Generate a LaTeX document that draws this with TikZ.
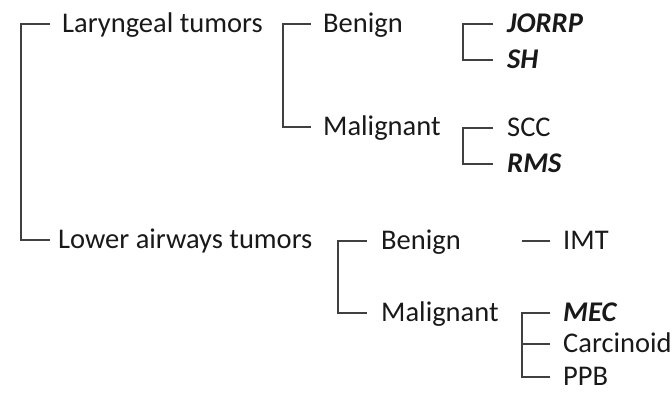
\documentclass[tikz,border=0pt]{standalone}
\usepackage{fontspec}
\setmainfont{Carlito}
\usepackage{tikz}

\begin{document}
\begin{tikzpicture}[
   x=1pt,y=-1pt,
   every node/.style={anchor=west,inner sep=0pt,text height=16pt,text depth=0pt,
      font=\fontsize{28.5}{33}\selectfont,text=black!90},
   hi/.style={font=\fontsize{28.5}{33}\selectfont\bfseries\itshape},
   br/.style={draw=black!75,line width=1.3pt}]
\useasboundingbox (0,0) rectangle (672,392);
% first level
\node (lar) at (62,24) {Laryngeal tumors};
\node (low) at (58,240) {Lower airways tumors};
% second level
\node (lben) at (323,24) {Benign};
\node (lmal) at (323,127) {Malignant};
\node (wben) at (381,241) {Benign};
\node (wmal) at (381,313) {Malignant};
% third level
\node[hi] (jor) at (507,24) {JORRP};
\node[hi] (sh) at (507,60) {SH};
\node (scc) at (507,128) {SCC};
\node[hi] (rms) at (507,164) {RMS};
\node (imt) at (563,241) {IMT};
\node[hi] (mec) at (563,313) {MEC};
\node (car) at (563,344) {Carcinoid};
\node (ppb) at (563,377) {PPB};
% brackets
\draw[br] ([xshift=-12pt]lar.west) -- ++(-29,0) |- ([xshift=-8pt]low.west);
\draw[br] ([xshift=-12pt]lben.west) -- ++(-28,0) |- ([xshift=-12pt]lmal.west);
\draw[br] ([xshift=-14pt]jor.west) -- ++(-30,0) |- ([xshift=-14pt]sh.west);
\draw[br] ([xshift=-14pt]scc.west) -- ++(-30,0) |- ([xshift=-14pt]rms.west);
\draw[br] ([xshift=-14pt]wben.west) -- ++(-29,0) |- ([xshift=-14pt]wmal.west);
\draw[br] ([xshift=-13pt]imt.west) -- ++(-28,0);
\draw[br] ([xshift=-13pt]mec.west) -- ++(-28,0) |- ([xshift=-13pt]ppb.west);
\draw[br] ([xshift=-13pt]car.west) -- ++(-28,0);
\end{tikzpicture}
\end{document}
